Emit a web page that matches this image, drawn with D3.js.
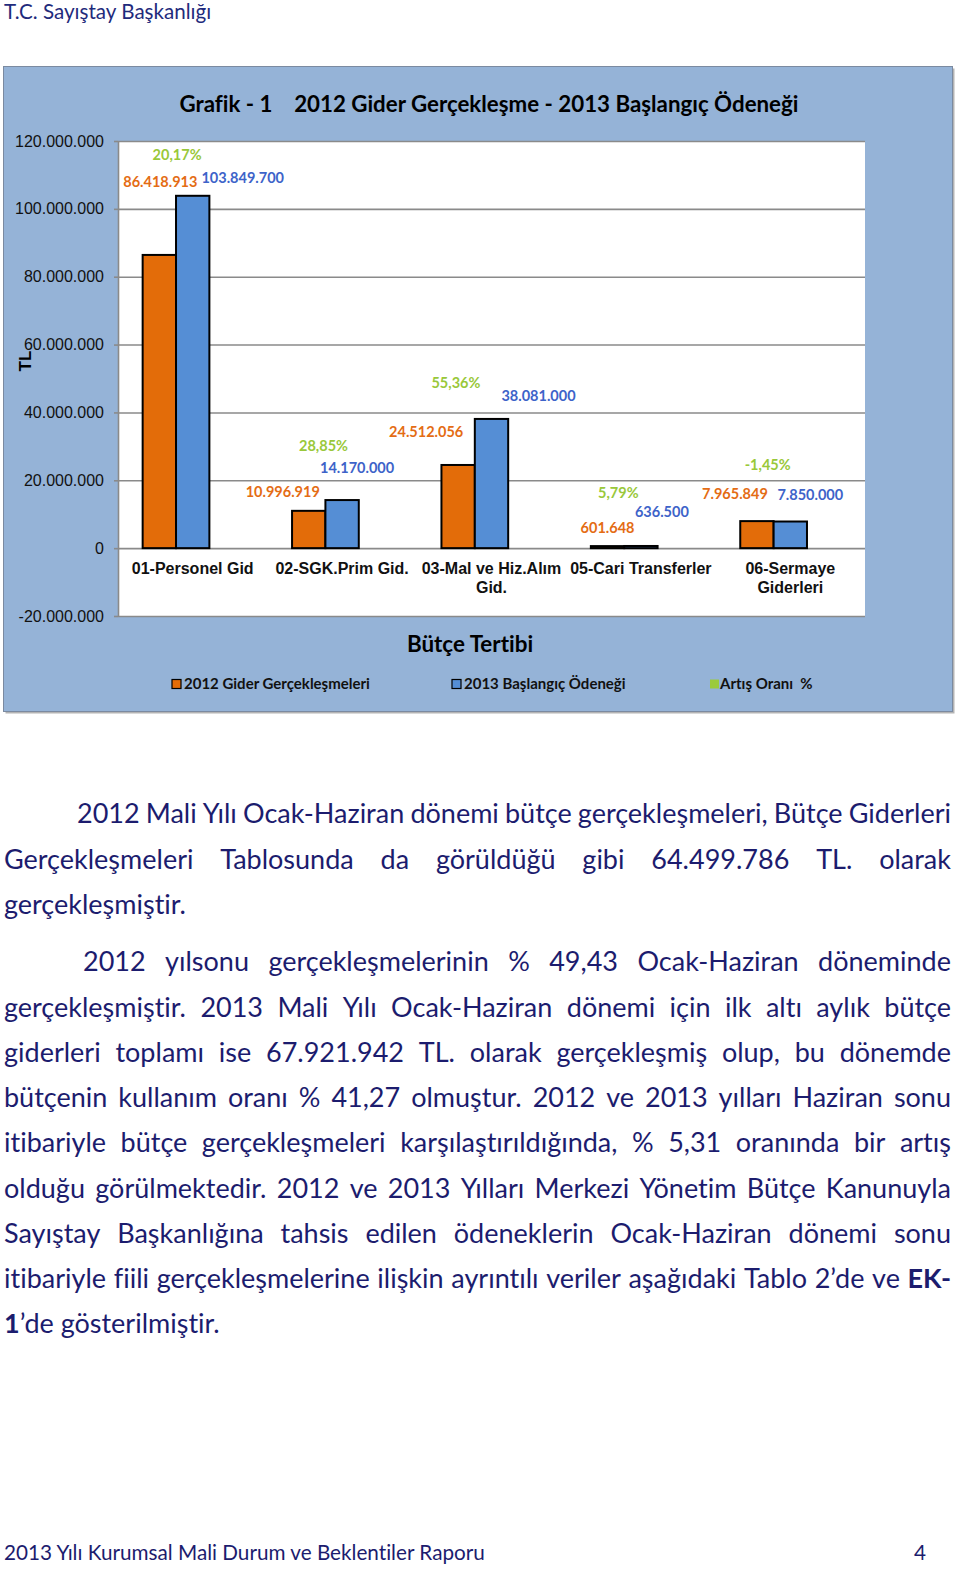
<!DOCTYPE html>
<html>
<head>
<meta charset="utf-8">
<script src="https://cdn.jsdelivr.net/npm/d3@7"></script>
<style>
  body { margin: 0; background: #fff; }
  #page { width: 960px; height: 1571px; overflow: hidden; }
  svg { font-family: Lato, "Open Sans", sans-serif; font-variant-ligatures: none; }
</style>
</head>
<body>
<div id="page"></div>
<script>
// chart data
var categories = ["01-Personel Gid", "02-SGK.Prim Gid.", "03-Mal ve Hiz.Alım Gid.", "05-Cari Transferler", "06-Sermaye Giderleri"];
var gider2012 = [86418913, 10996919, 24512056, 601648, 7965849];
var odenek2013 = [103849700, 14170000, 38081000, 636500, 7850000];
var artisOrani = [20.17, 28.85, 55.36, 5.79, -1.45];
var seriesNames = ["2012 Gider Gerçekleşmeleri", "2013 Başlangıç Ödeneği", "Artış Oranı  %"];
var yTicks = [-20000000, 0, 20000000, 40000000, 60000000, 80000000, 100000000, 120000000];

// page text
var headerText = "T.C. Sayıştay Başkanlığı";
var footerText = "2013 Yılı Kurumsal Mali Durum ve Beklentiler Raporu";
var pageNo = "4";
var paragraphs = [
  ["2012 Mali Yılı Ocak-Haziran dönemi bütçe gerçekleşmeleri, Bütçe Giderleri",
   "Gerçekleşmeleri Tablosunda da görüldüğü gibi 64.499.786 TL. olarak",
   "gerçekleşmiştir."],
  ["2012 yılsonu gerçekleşmelerinin % 49,43 Ocak-Haziran döneminde",
   "gerçekleşmiştir. 2013 Mali Yılı Ocak-Haziran dönemi için ilk altı aylık bütçe",
   "giderleri toplamı ise 67.921.942 TL. olarak gerçekleşmiş olup, bu dönemde",
   "bütçenin kullanım oranı % 41,27 olmuştur. 2012 ve 2013 yılları Haziran sonu",
   "itibariyle bütçe gerçekleşmeleri karşılaştırıldığında, % 5,31 oranında bir artış",
   "olduğu görülmektedir. 2012 ve 2013 Yılları Merkezi Yönetim Bütçe Kanunuyla",
   "Sayıştay Başkanlığına tahsis edilen ödeneklerin Ocak-Haziran dönemi sonu",
   "itibariyle fiili gerçekleşmelerine ilişkin ayrıntılı veriler aşağıdaki Tablo 2’de ve **EK-**",
   "**1**’de gösterilmiştir."]
];

// layout
var W = 960, H = 1571;
var plot = {left: 118, right: 865, top: 141, bottom: 616};
var barColors = ["#E36C09", "#558ED5", "#9BCB3C"];
var labelColors = ["#E46C14", "#3D63C9", "#99C83A"];
var textBlue = "#1c1c6e";
var arial = "'Liberation Sans', Arial, sans-serif";
// manual label nudges (px from bar centre / bar top), as placed in the original
var labelNudge = [
  [[1, -73], [50, -18], [-49, -393]],
  [[-26, -19], [15, -32], [-52, -102]],
  [[-32, -33], [47, -23], [-69, -165]],
  [[0, -18], [21, -34], [-56, -55]],
  [[-22, -27], [20, -27], [-56, -83]]
];
var legendX = [172, 452, 710];

var tr = d3.formatLocale({decimal: ",", thousands: ".", grouping: [3], currency: ["", " TL"], minus: "-"});
var fmtInt = tr.format(",d");
var fmtPct = tr.format(".2f");

var svg = d3.select("#page").append("svg")
  .attr("width", W)
  .attr("height", H);

// header
svg.append("text")
  .attr("x", 4).attr("y", 18.5)
  .attr("font-size", 20.6)
  .attr("fill", "#1f2b7c")
  .text(headerText);

// chart panel
svg.append("rect")
  .attr("x", 5.5).attr("y", 68.5).attr("width", 949).attr("height", 645)
  .attr("fill", "#b4b4b4");
svg.append("rect")
  .attr("x", 3.5).attr("y", 66.5).attr("width", 949).attr("height", 645)
  .attr("fill", "#95B3D7")
  .attr("stroke", "#7b8aa0");

svg.append("text")
  .attr("x", 489).attr("y", 111.5)
  .attr("text-anchor", "middle")
  .attr("font-size", 22.3)
  .attr("font-weight", "bold")
  .style("white-space", "pre")
  .text("Grafik - 1    2012 Gider Gerçekleşme - 2013 Başlangıç Ödeneği");

var y = d3.scaleLinear()
  .domain([yTicks[0], yTicks[yTicks.length - 1]])
  .range([plot.bottom, plot.top]);

var x0 = d3.scaleBand()
  .domain(categories)
  .range([plot.left, plot.right])
  .paddingInner(0.33)
  .paddingOuter(0.165);

var x1 = d3.scaleBand()
  .domain([0, 1, 2])
  .range([0, x0.bandwidth()]);

svg.append("rect")
  .attr("x", plot.left).attr("y", plot.top)
  .attr("width", plot.right - plot.left).attr("height", plot.bottom - plot.top)
  .attr("fill", "#fff");

// gridlines
var grid = svg.append("g")
  .attr("transform", "translate(" + plot.left + ",0)")
  .call(d3.axisLeft(y).tickValues(yTicks).tickSize(-(plot.right - plot.left)).tickFormat(""));
grid.select(".domain").remove();
grid.selectAll("line").attr("stroke", "#8a8a8a").attr("stroke-width", 1.6);

// y axis
var yAxis = svg.append("g")
  .attr("transform", "translate(" + plot.left + ",0)")
  .call(d3.axisLeft(y).tickValues(yTicks).tickSize(4).tickSizeOuter(0).tickPadding(10)
    .tickFormat(function(d) { return fmtInt(d); }));
yAxis.select(".domain").attr("stroke", "#8a8a8a").attr("stroke-width", 1.6);
yAxis.selectAll("line").attr("stroke", "#8a8a8a").attr("stroke-width", 1.6);
yAxis.selectAll("text")
  .style("font-family", arial)
  .attr("font-size", 16)
  .attr("fill", "#111");

svg.append("text")
  .attr("transform", "translate(25,361) rotate(-90)")
  .attr("text-anchor", "middle")
  .attr("dy", "0.35em")
  .style("font-family", arial)
  .attr("font-size", 17)
  .attr("font-weight", "bold")
  .text("TL");

// bars
var rows = categories.map(function(c, i) {
  return {cat: c, i: i, vals: [gider2012[i], odenek2013[i], artisOrani[i] / 100]};
});

var groups = svg.selectAll(".grp")
  .data(rows)
  .enter()
  .append("g")
  .attr("class", "grp")
  .attr("transform", function(d) { return "translate(" + x0(d.cat) + ",0)"; });

groups.selectAll("rect")
  .data(function(d) { return d.vals.map(function(v, s) { return {v: v, s: s, i: d.i}; }); })
  .enter()
  .append("rect")
  .attr("x", function(d) { return x1(d.s); })
  .attr("y", function(d) { return y(Math.max(0, d.v)); })
  .attr("width", x1.bandwidth())
  .attr("height", function(d) { return Math.abs(y(d.v) - y(0)); })
  .attr("fill", function(d) { return barColors[d.s]; })
  .attr("stroke", function(d) { return d.s < 2 ? "#000" : "none"; })
  .attr("stroke-width", 2);

groups.selectAll(".lbl")
  .data(function(d) { return d.vals.map(function(v, s) { return {v: v, s: s, i: d.i}; }); })
  .enter()
  .append("text")
  .attr("class", "lbl")
  .attr("x", function(d) { return x1(d.s) + x1.bandwidth() / 2 + labelNudge[d.i][d.s][0]; })
  .attr("y", function(d) { return y(Math.max(0, d.v)) + labelNudge[d.i][d.s][1]; })
  .attr("dy", "0.35em")
  .attr("text-anchor", "middle")
  .attr("font-size", 14.5)
  .attr("font-weight", "bold")
  .attr("fill", function(d) { return labelColors[d.s]; })
  .text(function(d) {
    if (d.s === 2) return fmtPct(artisOrani[d.i]) + "%";
    return fmtInt(d.v);
  });

// category labels, wrapped to the band step
var catText = svg.selectAll(".cat")
  .data(categories)
  .enter()
  .append("text")
  .attr("class", "cat")
  .attr("text-anchor", "middle")
  .style("font-family", arial)
  .attr("font-size", 16)
  .attr("font-weight", "bold")
  .attr("fill", "#111");

catText.each(function(d) {
  var t = d3.select(this);
  var cx = x0(d) + x0.bandwidth() / 2;
  var words = d.split(" ");
  var lines = [], cur = [];
  var probe = t.append("tspan");
  words.forEach(function(wd) {
    var test = cur.concat([wd]).join(" ");
    probe.text(test);
    if (probe.node().getComputedTextLength() > x0.step() - 4 && cur.length) {
      lines.push(cur.join(" "));
      cur = [wd];
    } else {
      cur.push(wd);
    }
  });
  lines.push(cur.join(" "));
  probe.remove();
  lines.forEach(function(l, k) {
    t.append("tspan").attr("x", cx).attr("y", 573.5 + k * 19).text(l);
  });
});

svg.append("text")
  .attr("x", 470).attr("y", 651.5)
  .attr("text-anchor", "middle")
  .attr("font-size", 22.4)
  .attr("font-weight", "bold")
  .text("Bütçe Tertibi");

// legend
var leg = svg.selectAll(".leg")
  .data(seriesNames)
  .enter()
  .append("g")
  .attr("class", "leg")
  .attr("transform", function(d, i) { return "translate(" + legendX[i] + ",684)"; });
leg.append("rect")
  .attr("x", 0).attr("y", -4.5).attr("width", 9).attr("height", 9)
  .attr("fill", function(d, i) { return barColors[i]; })
  .attr("stroke", function(d, i) { return i < 2 ? "#000" : "none"; })
  .attr("stroke-width", 1.2);
leg.append("text")
  .attr("x", function(d, i) { return i < 2 ? 12 : 10; })
  .attr("dy", "0.35em")
  .attr("font-size", 15)
  .attr("font-weight", "bold")
  .attr("fill", "#111")
  .style("white-space", "pre")
  .text(function(d) { return d; });

// body paragraphs, justified word by word
var bodySize = 27, lineGap = 45.25, textLeft = 4, textRight = 951;
var firstBase = [823.3, 971.3];
var indents = [77, 83];

function addWord(parent, word) {
  var t = parent.append("text")
    .attr("font-size", bodySize)
    .attr("fill", textBlue)
    .style("white-space", "pre");
  word.split("**").forEach(function(part, k) {
    if (!part) return;
    t.append("tspan").attr("font-weight", k % 2 ? "bold" : "normal").text(part);
  });
  return t;
}

var spaceProbe = svg.append("text").attr("font-size", bodySize).text("a a");
var spW = spaceProbe.node().getComputedTextLength();
spaceProbe.text("aa");
spW -= spaceProbe.node().getComputedTextLength();
spaceProbe.remove();

paragraphs.forEach(function(lines, p) {
  lines.forEach(function(line, k) {
    var base = firstBase[p] + k * lineGap;
    var left = k === 0 ? indents[p] : textLeft;
    var g = svg.append("g");
    var words = line.split(" ");
    var nodes = words.map(function(wd) { return addWord(g, wd); });
    var widths = nodes.map(function(n) { return n.node().getComputedTextLength(); });
    var total = d3.sum(widths);
    var last = k === lines.length - 1;
    var gap = (!last && words.length > 1) ? (textRight - left - total) / (words.length - 1) : spW;
    var xx = left;
    nodes.forEach(function(n, j) {
      n.attr("x", xx).attr("y", base);
      xx += widths[j] + gap;
    });
  });
});

// footer
svg.append("text")
  .attr("x", 4).attr("y", 1560)
  .attr("font-size", 20.7)
  .attr("fill", textBlue)
  .text(footerText);
svg.append("text")
  .attr("x", 926).attr("y", 1560)
  .attr("text-anchor", "end")
  .attr("font-size", 20.7)
  .attr("fill", textBlue)
  .text(pageNo);
</script>
</body>
</html>
